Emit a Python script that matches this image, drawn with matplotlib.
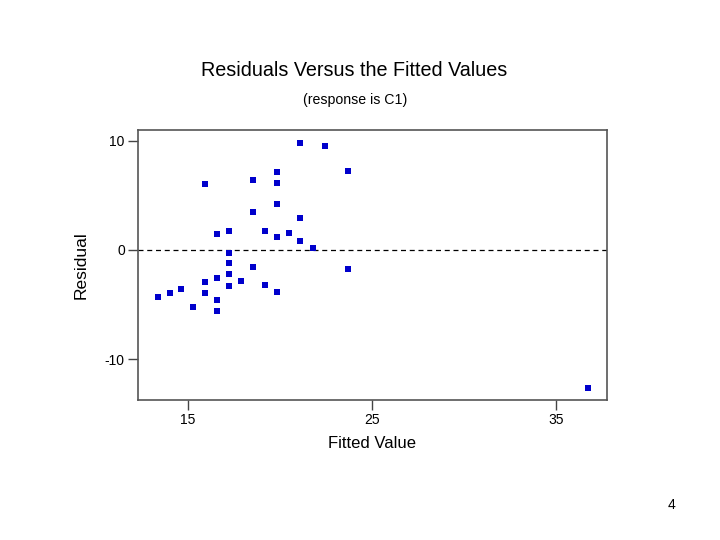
import matplotlib
matplotlib.use("Agg")
import matplotlib.pyplot as plt

plt.rcParams['font.family'] = ['Liberation Sans', 'DejaVu Sans']

fitted = [21.12, 22.46, 23.73, 15.96, 18.55, 19.85, 19.85, 19.85, 18.55, 21.12,
          16.61, 17.26, 19.20, 19.85, 20.49, 21.12, 21.79, 17.26, 17.26, 18.55,
          23.73, 15.96, 16.61, 17.26, 17.90, 17.26, 19.20, 19.85, 13.37, 14.02,
          14.64, 15.96, 15.29, 16.61, 16.61, 36.74]
residual = [9.83, 9.55, 7.26, 6.04, 6.41, 7.17, 6.14, 4.18, 3.48, 2.90,
            1.44, 1.77, 1.77, 1.16, 1.53, 0.82, 0.21, -0.25, -1.22, -1.56,
            -1.71, -2.93, -2.59, -2.23, -2.84, -3.27, -3.18, -3.85, -4.28, -3.97,
            -3.60, -3.94, -5.22, -4.55, -5.56, -12.66]
xticks = [15, 25, 35]
yticks = [-10, 0, 10]

fig = plt.figure(figsize=(7.2, 5.4), dpi=100)
ax = fig.add_axes([138/720, 1 - 400/540, (607-138)/720, (400-130)/540])
ax.scatter(fitted, residual, marker='s', s=22, color='#0000CC', linewidths=0, zorder=3)
ax.axhline(0, color='black', linestyle=(0, (4, 3)), linewidth=0.9)
ax.set_xlim(12.30, 37.79)
ax.set_ylim(-13.75, 10.98)
ax.set_xticks(xticks)
ax.set_yticks(yticks)
ax.set_xticklabels([str(t) for t in xticks])
ax.set_yticklabels([str(t) for t in yticks])
ax.tick_params(direction='out', length=7.5, width=1, color='#444444', labelsize=10, pad=2)
for s in ax.spines.values():
    s.set_color('#555555')
    s.set_linewidth(1.2)
ax.set_xlabel('Fitted Value', fontsize=12, labelpad=6)
ax.set_ylabel('Residual', fontsize=12.5, labelpad=12)

fig.text(354/720, 1 - 71/540, 'Residuals Versus the Fitted Values', fontsize=14.2,
         ha='center', va='center')
fig.text(355/720, 1 - 100/540, '(response is C1)', fontsize=10.2, ha='center', va='center')
fig.text(672/720, 1 - 505/540, '4', fontsize=10, ha='center', va='center')

fig.savefig('out.png', dpi=100)
